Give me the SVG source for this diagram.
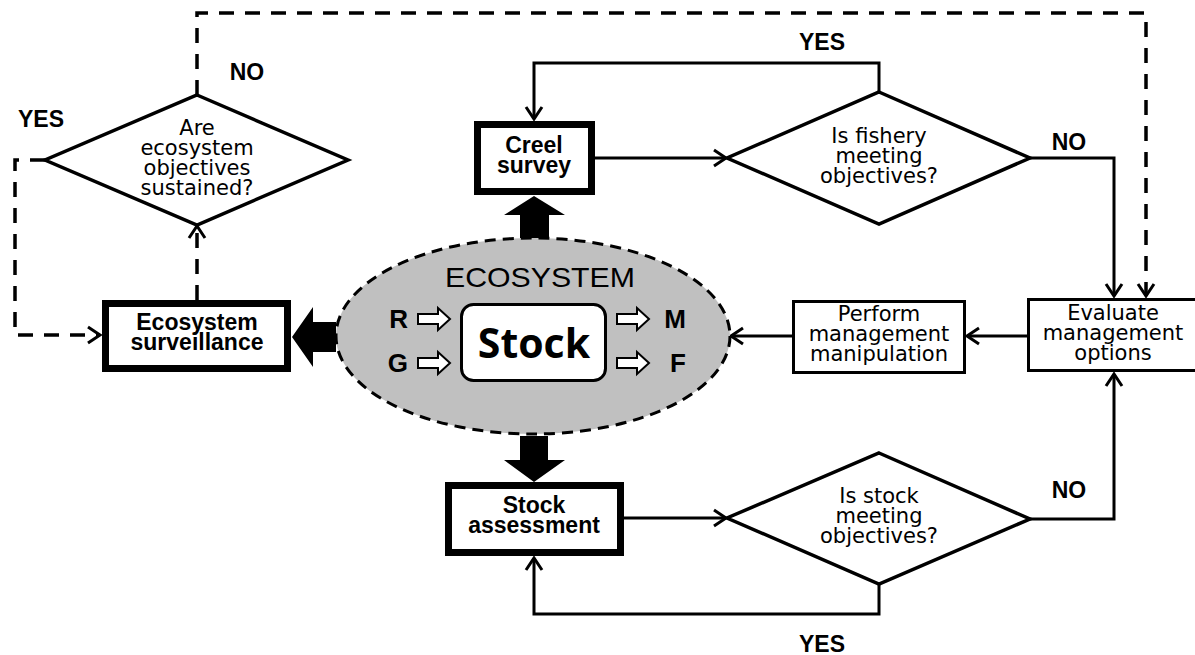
<svg xmlns="http://www.w3.org/2000/svg" width="1195" height="655" viewBox="0 0 1195 655">
<style>
.ln{fill:none;stroke:#000;stroke-width:3}
.dash{fill:none;stroke:#000;stroke-width:3.5;stroke-dasharray:15 11}
.thick{fill:#fff;stroke:#000;stroke-width:7}
.thin{fill:#fff;stroke:#000;stroke-width:3}
.dia{fill:#fff;stroke:#000;stroke-width:3.5;stroke-linejoin:miter}
.b{font-family:"Liberation Sans",Arial,sans-serif;font-weight:bold;font-size:23px;text-anchor:middle;fill:#000}
.r{font-family:"DejaVu Sans","Liberation Sans",sans-serif;font-size:21px;text-anchor:middle;fill:#000}
.lt{font-family:"Liberation Sans",Arial,sans-serif;font-weight:bold;font-size:26px;fill:#000}
.ha{fill:#fff;stroke:#000;stroke-width:2}
.blk{fill:#000}
</style>
<defs>
<marker id="ah" markerUnits="userSpaceOnUse" markerWidth="18" markerHeight="20" viewBox="0 0 18 20" refX="14" refY="10" orient="auto">
<path d="M2,2 L14,10 L2,18" fill="none" stroke="#000" stroke-width="3"/>
</marker>
</defs>

<g id="connectors">
<path class="dash" d="M197,95 V13 H1146 V296" marker-end="url(#ah)"/>
<path class="dash" d="M45,160 H15 V335 H100" marker-end="url(#ah)"/>
<path class="dash" d="M197,300 V226" marker-end="url(#ah)"/>
<path class="ln" d="M595,158 H726" marker-end="url(#ah)"/>
<path class="ln" d="M879,92 V63 H534 V119" marker-end="url(#ah)"/>
<path class="ln" d="M1030,158 H1114 V296" marker-end="url(#ah)"/>
<path class="ln" d="M1027,336 H967" marker-end="url(#ah)"/>
<path class="ln" d="M792,336 H731" marker-end="url(#ah)"/>
<path class="ln" d="M624,518 H726" marker-end="url(#ah)"/>
<path class="ln" d="M879,584 V614 H534 V558" marker-end="url(#ah)"/>
<path class="ln" d="M1030,519 H1114 V374" marker-end="url(#ah)"/>
<polygon class="blk" points="292,337 313,307 313,322 336,322 336,352 313,352 313,367"/>
<polygon class="blk" points="534,196 565,215 549,215 549,238 520,238 520,215 504,215"/>
<polygon class="blk" points="534,482 565,460 548,460 548,436 520,436 520,460 504,460"/>
</g>

<g id="ecosystem">
<ellipse cx="533" cy="336" rx="197" ry="98" fill="#c0c0c0" stroke="#000" stroke-width="3" stroke-dasharray="11 7"/>
<text x="445" y="287" font-family="'Liberation Sans',Arial,sans-serif" font-size="28" textLength="190" lengthAdjust="spacingAndGlyphs" fill="#000">ECOSYSTEM</text>
<text class="lt" x="408" y="328" text-anchor="end">R</text>
<text class="lt" x="408" y="372" text-anchor="end">G</text>
<text class="lt" x="686" y="328" text-anchor="end">M</text>
<text class="lt" x="686" y="372" text-anchor="end">F</text>
<path class="ha" transform="translate(418,319)" d="M0,-5 H20 V-11 L32,0 L20,11 V5 H0 Z"/>
<path class="ha" transform="translate(418,363)" d="M0,-5 H20 V-11 L32,0 L20,11 V5 H0 Z"/>
<path class="ha" transform="translate(617,319)" d="M0,-5 H20 V-11 L32,0 L20,11 V5 H0 Z"/>
<path class="ha" transform="translate(617,363)" d="M0,-5 H20 V-11 L32,0 L20,11 V5 H0 Z"/>
</g>

<g id="stock">
<rect x="461.5" y="304.5" width="144" height="76" rx="12" fill="#fff" stroke="#000" stroke-width="3"/>
<text x="534" y="358" text-anchor="middle" font-family="'Open Sans',Lato,sans-serif" font-weight="bold" font-size="41" fill="#000">Stock</text>
</g>

<g id="eco-diamond">
<polygon class="dia" points="197,95 348,160 197,225 45,160"/>
<text class="r" x="197" y="135">Are</text>
<text class="r" x="197" y="155">ecosystem</text>
<text class="r" x="197" y="175">objectives</text>
<text class="r" x="197" y="195">sustained?</text>
</g>

<g id="eco-surveillance">
<rect class="thick" x="105.5" y="303.5" width="182" height="65"/>
<text class="b" x="197" y="330">Ecosystem</text>
<text class="b" x="197" y="350">surveillance</text>
</g>

<g id="creel-survey">
<rect class="thick" x="477.5" y="124.5" width="114" height="67"/>
<text class="b" x="534" y="153">Creel</text>
<text class="b" x="534" y="173">survey</text>
</g>

<g id="fishery-diamond">
<polygon class="dia" points="879,92 1030,158 879,224 727,158"/>
<text class="r" x="879" y="143">Is fishery</text>
<text class="r" x="879" y="163">meeting</text>
<text class="r" x="879" y="183">objectives?</text>
</g>

<g id="stock-assessment">
<rect class="thick" x="448.5" y="485.5" width="172" height="67"/>
<text class="b" x="534" y="513">Stock</text>
<text class="b" x="534" y="533">assessment</text>
</g>

<g id="stock-diamond">
<polygon class="dia" points="879,453 1030,519 879,584 727,518"/>
<text class="r" x="879" y="503">Is stock</text>
<text class="r" x="879" y="523">meeting</text>
<text class="r" x="879" y="543">objectives?</text>
</g>

<g id="perform">
<rect class="thin" x="793.5" y="301.5" width="171" height="71"/>
<text class="r" x="879" y="321">Perform</text>
<text class="r" x="879" y="341">management</text>
<text class="r" x="879" y="361">manipulation</text>
</g>

<g id="evaluate">
<rect class="thin" x="1028.5" y="299.5" width="170" height="71"/>
<text class="r" x="1113" y="320">Evaluate</text>
<text class="r" x="1113" y="340">management</text>
<text class="r" x="1113" y="360">options</text>
</g>

<g id="labels">
<text class="b" x="41" y="127">YES</text>
<text class="b" x="247" y="80">NO</text>
<text class="b" x="822" y="50">YES</text>
<text class="b" x="1069" y="150">NO</text>
<text class="b" x="1069" y="498">NO</text>
<text class="b" x="822" y="652">YES</text>
</g>
</svg>
